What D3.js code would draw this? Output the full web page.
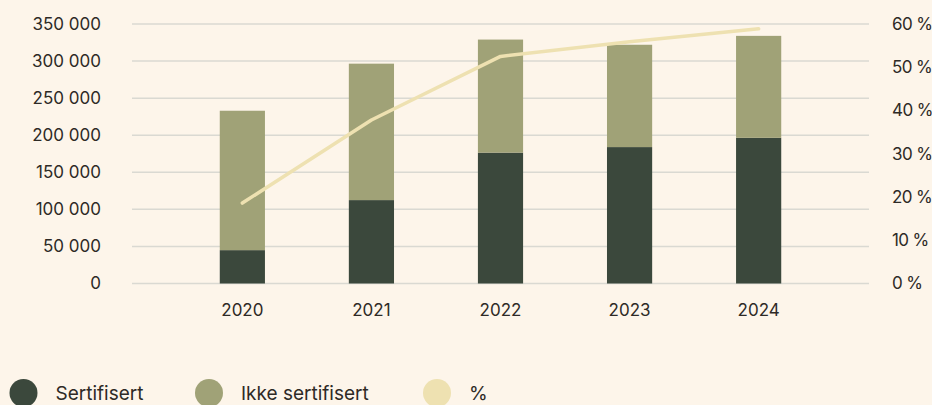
<!DOCTYPE html>
<html>
<head>
<meta charset="utf-8">
<script src="https://cdn.jsdelivr.net/npm/d3@7"></script>
<style>
  html, body { margin: 0; padding: 0; background: #fdf5ea; }
  svg { display: block; font-family: Inter, "Noto Sans", sans-serif; }
</style>
</head>
<body>
<svg id="chart" width="932" height="405"></svg>
<script>
const years = ["2020", "2021", "2022", "2023", "2024"]
const sertifisert = [45000, 112500, 176500, 184000, 196500]
const ikkeSertifisert = [188000, 184000, 152500, 138000, 137500]
const andel = [18.6, 37.8, 52.5, 55.9, 58.9]
const yTicks = [0, 50000, 100000, 150000, 200000, 250000, 300000, 350000]
const pTicks = [0, 10, 20, 30, 40, 50, 60]
const legendItems = ["Sertifisert", "Ikke sertifisert", "%"]
const colors = ["#3b483c", "#a0a277", "#eee1b1"]

const svg = d3.select("#chart")
const plotLeft = 132, plotRight = 869, plotTop = 24, plotBottom = 283.5

const x = d3.scaleBand().domain(years).range([plotLeft, plotRight]).paddingInner(0.65).paddingOuter(0.68)
const y = d3.scaleLinear().domain([0, 350000]).range([plotBottom, plotTop])
const yp = d3.scaleLinear().domain([0, 60]).range([plotBottom, plotTop])

const fmt = v => d3.format(",")(v).replace(/,/g, " ")

// grid
svg.append("g")
  .selectAll("line")
  .data(yTicks)
  .join("line")
  .attr("x1", plotLeft).attr("x2", plotRight)
  .attr("y1", d => y(d)).attr("y2", d => y(d))
  .attr("stroke", "#dad9d2").attr("stroke-width", 1.5)

// left axis
const yAxis = svg.append("g")
  .attr("transform", `translate(${plotLeft - 31},0)`)
  .call(d3.axisLeft(y).tickValues(yTicks).tickFormat(fmt).tickSize(0).tickPadding(0))
yAxis.select(".domain").remove()
yAxis.selectAll("text").attr("font-size", 17).attr("fill", "#2e2a26")
yAxis.attr("font-family", null)

// right axis
const pAxis = svg.append("g")
  .attr("transform", `translate(${plotRight + 23},0)`)
  .call(d3.axisRight(yp).tickValues(pTicks).tickFormat(d => d + " %").tickSize(0).tickPadding(0))
pAxis.select(".domain").remove()
pAxis.selectAll("text").attr("font-size", 17).attr("fill", "#2e2a26").attr("letter-spacing", "-0.6px")
pAxis.attr("font-family", null)

// x axis
const xAxis = svg.append("g")
  .attr("transform", `translate(0,${plotBottom + 20})`)
  .call(d3.axisBottom(x).tickSize(0).tickPadding(0))
xAxis.select(".domain").remove()
xAxis.selectAll("text").attr("font-size", 17).attr("fill", "#2e2a26").attr("dy", "0.71em")
xAxis.attr("font-family", null)

// stacked bars
const rows = years.map((yr, i) => ({ year: yr, a: sertifisert[i], b: ikkeSertifisert[i] }))
const stack = d3.stack().keys(["a", "b"])(rows)
svg.append("g")
  .selectAll("g")
  .data(stack)
  .join("g")
  .attr("fill", (d, i) => colors[i])
  .selectAll("rect")
  .data(d => d)
  .join("rect")
  .attr("x", d => x(d.data.year))
  .attr("width", x.bandwidth())
  .attr("y", d => y(d[1]))
  .attr("height", d => y(d[0]) - y(d[1]))

// percent line
const line = d3.line()
  .x((d, i) => x(years[i]) + x.bandwidth() / 2)
  .y(d => yp(d))
svg.append("path")
  .datum(andel)
  .attr("d", line)
  .attr("fill", "none")
  .attr("stroke", colors[2])
  .attr("stroke-width", 3.5)
  .attr("stroke-linecap", "round")
  .attr("stroke-linejoin", "round")

// legend
const legendX = [23.5, 209, 437]
const lg = svg.append("g")
  .selectAll("g")
  .data(legendItems)
  .join("g")
  .attr("transform", (d, i) => `translate(${legendX[i]},393)`)
lg.append("circle").attr("r", 14).attr("fill", (d, i) => colors[i])
lg.append("text")
  .attr("x", 32)
  .attr("dy", "0.35em")
  .attr("font-size", 19)
  .attr("fill", "#2e2a26")
  .text(d => d)
</script>
</body>
</html>
